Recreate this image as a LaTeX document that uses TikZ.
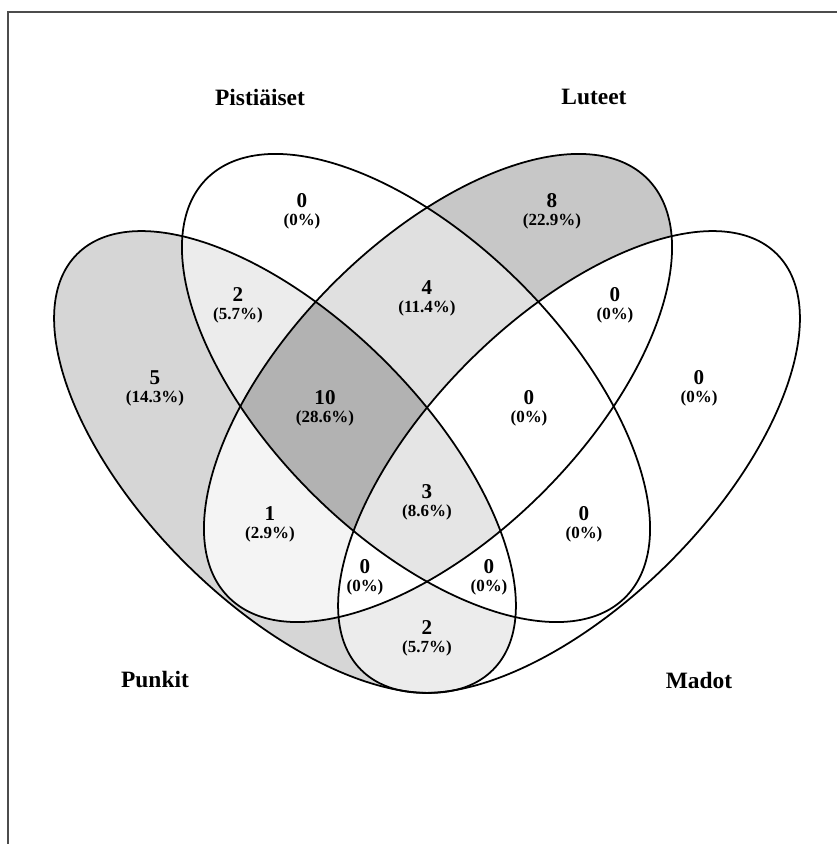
\documentclass[tikz,border=0pt]{standalone}
\usepackage{fontspec}
\setmainfont{Liberation Serif}
\usepackage{tikz}

\definecolor{grTen}{gray}{0.70}
\definecolor{grEight}{gray}{0.78}
\definecolor{grFive}{gray}{0.84}
\definecolor{grFour}{gray}{0.88}
\definecolor{grThree}{gray}{0.90}
\definecolor{grTwo}{gray}{0.925}
\definecolor{grOne}{gray}{0.955}

% the four sets
\newcommand{\Punkit}{[rotate around={-45:(285,382)}] (285,382) ellipse (294 and 142)}
\newcommand{\Madot}{[rotate around={45:(569,382)}] (569,382) ellipse (294 and 142)}
\newcommand{\Pist}{[rotate around={-45:(416,456)}] (416,456) ellipse (296 and 148)}
\newcommand{\Lut}{[rotate around={45:(438,456)}] (438,456) ellipse (296 and 148)}

\tikzset{
  setname/.style={font=\fontsize{20}{24}\selectfont\bfseries, inner sep=0pt},
  cnt/.style={font=\fontsize{18}{20}\selectfont\bfseries, inner sep=0pt},
  pct/.style={font=\fontsize{14.5}{16}\selectfont\bfseries, inner sep=0pt},
  rim/.style={line width=1.5pt}
}

\begin{document}
\begin{tikzpicture}[x=0.03cm, y=0.03cm]
		\useasboundingbox (0,0) rectangle (837,844);
		\draw[line width=1.5pt, black!70] (8,0) -- (8,832) -- (837,832);

		% single sets
		\fill[grFive] \Punkit;
		\fill[grEight] \Lut;
		% pairs
		\begin{scope}
			\clip \Punkit;
			\fill[grTwo] \Pist;
			\fill[grOne] \Lut;
			\fill[grTwo] \Madot;
		\end{scope}
		\begin{scope}
			\clip \Pist;
			\fill[grFour] \Lut;
			\fill[white] \Madot;
		\end{scope}
		\begin{scope}
			\clip \Lut;
			\fill[white] \Madot;
		\end{scope}
		% triples
		\begin{scope}
			\clip \Punkit; \clip \Pist;
			\fill[grTen] \Lut;
			\fill[white] \Madot;
		\end{scope}
		\begin{scope}
			\clip \Lut; \clip \Madot;
			\fill[white] \Punkit;
			\fill[white] \Pist;
		\end{scope}
		% all four
		\begin{scope}
			\clip \Punkit; \clip \Pist; \clip \Lut;
			\fill[grThree] \Madot;
		\end{scope}

		\draw[rim] \Punkit;
		\draw[rim] \Madot;
		\draw[rim] \Pist;
		\draw[rim] \Lut;

		\node[setname] (pistName) at (260,747) {Pistiäiset};
		\node[setname] (lutName) at (594,747) {Luteet};
		\node[setname] (punName) at (155,164) {Punkit};
		\node[setname] (madName) at (699,164) {Madot};

		\node[cnt] (pi) at (302,643) {0};        \node[pct] (piP) at (302,623) {(0\%)};
		\node[cnt] (lu) at (552,643) {8};        \node[pct] (luP) at (552,623) {(22.9\%)};
		\node[cnt] (puPi) at (238,549) {2};      \node[pct] (puPiP) at (238,529) {(5.7\%)};
		\node[cnt] (piLu) at (427,556) {4};      \node[pct] (piLuP) at (427,536) {(11.4\%)};
		\node[cnt] (luMa) at (615,549) {0};      \node[pct] (luMaP) at (615,529) {(0\%)};
		\node[cnt] (pu) at (155,466) {5};        \node[pct] (puP) at (155,446) {(14.3\%)};
		\node[cnt] (ma) at (699,466) {0};        \node[pct] (maP) at (699,446) {(0\%)};
		\node[cnt] (puPiLu) at (325,446) {10};   \node[pct] (puPiLuP) at (325,426) {(28.6\%)};
		\node[cnt] (piLuMa) at (529,446) {0};    \node[pct] (piLuMaP) at (529,426) {(0\%)};
		\node[cnt] (puLu) at (270,330) {1};      \node[pct] (puLuP) at (270,310) {(2.9\%)};
		\node[cnt] (all) at (427,352) {3};       \node[pct] (allP) at (427,332) {(8.6\%)};
		\node[cnt] (piMa) at (584,330) {0};      \node[pct] (piMaP) at (584,310) {(0\%)};
		\node[cnt] (puLuMa) at (365,277) {0};    \node[pct] (puLuMaP) at (365,257) {(0\%)};
		\node[cnt] (puPiMa) at (489,277) {0};    \node[pct] (puPiMaP) at (489,257) {(0\%)};
		\node[cnt] (puMa) at (427,216) {2};      \node[pct] (puMaP) at (427,196) {(5.7\%)};
	\end{tikzpicture}
\end{document}
